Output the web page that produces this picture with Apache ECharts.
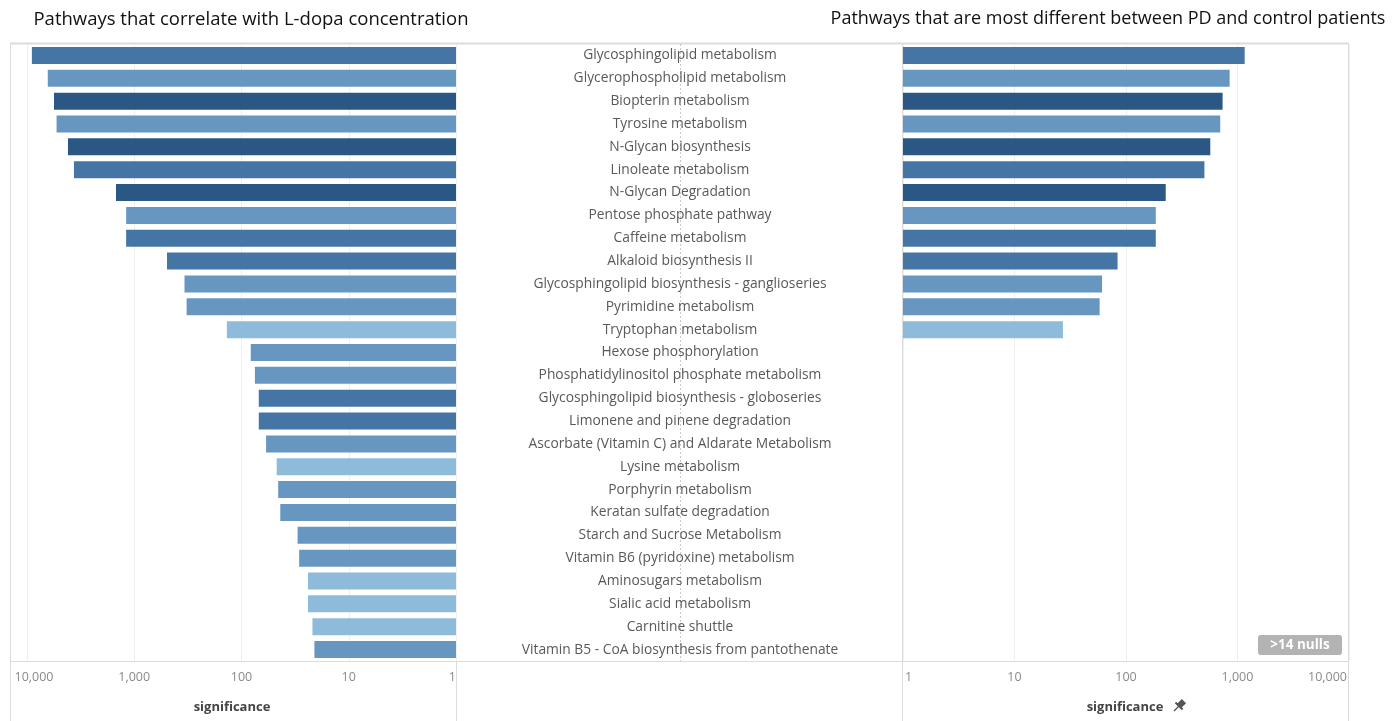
<!DOCTYPE html>
<html>
<head>
<meta charset="utf-8">
<title>Pathways significance</title>
<script src="https://cdn.jsdelivr.net/npm/echarts@6/dist/echarts.min.js"></script>
<style>
    html, body { margin: 0; padding: 0; background: #fff; }
    #main { width: 1396px; height: 721px; }
</style>
</head>
<body>
<div id="main"></div>
<script>
// pathways, top to bottom
var pathways = [
    "Glycosphingolipid metabolism",
    "Glycerophospholipid metabolism",
    "Biopterin metabolism",
    "Tyrosine metabolism",
    "N-Glycan biosynthesis",
    "Linoleate metabolism",
    "N-Glycan Degradation",
    "Pentose phosphate pathway",
    "Caffeine metabolism",
    "Alkaloid biosynthesis II",
    "Glycosphingolipid biosynthesis - ganglioseries",
    "Pyrimidine metabolism",
    "Tryptophan metabolism",
    "Hexose phosphorylation",
    "Phosphatidylinositol phosphate metabolism",
    "Glycosphingolipid biosynthesis - globoseries",
    "Limonene and pinene degradation",
    "Ascorbate (Vitamin C) and Aldarate Metabolism",
    "Lysine metabolism",
    "Porphyrin metabolism",
    "Keratan sulfate degradation",
    "Starch and Sucrose Metabolism",
    "Vitamin B6 (pyridoxine) metabolism",
    "Aminosugars metabolism",
    "Sialic acid metabolism",
    "Carnitine shuttle",
    "Vitamin B5 - CoA biosynthesis from pantothenate"
];

// significance vs L-dopa concentration (left panel)
var ldopaSig = [9000, 6400, 5600, 5300, 4150, 3650, 1480, 1190, 1190, 495,
    340, 325, 137, 82, 75, 69, 69, 59, 47, 45.5, 43.5, 30, 29, 24, 24, 21.8, 20.9];

// significance PD vs control (right panel), null = no value
var pdSig = [1160, 850, 735, 700, 570, 505, 227, 185, 185, 84,
    61, 58, 27.2, null, null, null, null, null, null, null, null, null, null, null, null, null, null];

// colour level of each pathway (0 = lightest .. 3 = darkest)
var shadeLevel = [2, 1, 3, 1, 3, 2, 3, 1, 2, 2, 1, 1, 0, 1, 1, 2, 2, 1, 0, 1, 1, 1, 1, 0, 0, 0, 1];

var tickLabels = ["1", "10", "100", "1,000", "10,000"];

var nullsNote = ">14 nulls";

var chart_view = (function () {
    var palette = ["#8fbbdb", "#6797c1", "#4575a4", "#2a5783"];
    var frameColor = "#dcdcdc";
    var labelFont = "'Open Sans', sans-serif";
    var titleFont = "'Open Sans', sans-serif";

    // shallow merge helper
    var merge = function (a, b) {
        var o = {}, k;
        for (k in a) { o[k] = a[k]; }
        for (k in b) { o[k] = b[k]; }
        return o;
    };

    var buildData = function (values) {
        var out = [];
        for (var i = 0; i < values.length; i++) {
            out.push({
                value: values[i] === null ? "-" : values[i],
                itemStyle: { color: palette[shadeLevel[i]] }
            });
        }
        return out;
    };

    var tickFormatter = function (v) {
        var p = Math.round(Math.log(v) / Math.LN10);
        return tickLabels[p] || "";
    };

    var vline = function (x, y1, y2, dashed) {
        return {
            type: "line",
            silent: true,
            shape: { x1: x, y1: y1, x2: x, y2: y2 },
            style: dashed ? { stroke: "#c8c8c8", lineWidth: 1, lineDash: [2, 2] }
                          : { stroke: frameColor, lineWidth: 1 }
        };
    };

    var hline = function (y, x1, x2, w) {
        return {
            type: "line",
            silent: true,
            shape: { x1: x1, y1: y, x2: x2, y2: y },
            style: { stroke: frameColor, lineWidth: w || 1 }
        };
    };

    var init = function () {
        var my_chart = echarts.init(document.getElementById("main"));

        var xAxisCommon = {
            type: "log",
            logBase: 10,
            min: 1,
            max: 10000,
            axisLine: { show: false },
            axisTick: { show: false },
            splitLine: { show: true, lineStyle: { color: "#efefef", width: 1 } },
            axisLabel: {
                formatter: tickFormatter,
                color: "#8a8a8a",
                fontFamily: labelFont,
                fontSize: 12.5,
                margin: 10
            }
        };

        var option = {
            animation: false,
            textStyle: { fontFamily: labelFont },
            title: [
                {
                    text: "Pathways that correlate with L-dopa concentration",
                    left: 246, top: 5, textAlign: "center",
                    textStyle: { fontFamily: titleFont, fontSize: 18.5, fontWeight: "normal", color: "#111" }
                },
                {
                    text: "Pathways that are most different between PD and control patients",
                    left: 1103, top: 5, textAlign: "center",
                    textStyle: { fontFamily: titleFont, fontSize: 18, fontWeight: "normal", color: "#111" }
                }
            ],
            grid: [
                { left: 27, right: 940, top: 44, bottom: 60, containLabel: false },
                { left: 903, right: 47, top: 44, bottom: 60, containLabel: false }
            ],
            xAxis: [
                merge(xAxisCommon, {
                    gridIndex: 0,
                    inverse: true,
                    axisLabel: merge(xAxisCommon.axisLabel, {
                        alignMinLabel: "right",
                        formatter: function (v) {
                            var s = tickFormatter(v);
                            return s === "10,000" ? "{edge|" + s + "}" : s;
                        },
                        rich: { edge: { padding: [0, 0, 0, 14], color: "#8a8a8a", fontSize: 12.5, fontFamily: labelFont } }
                    })
                }),
                merge(xAxisCommon, {
                    gridIndex: 1,
                    axisLabel: merge(xAxisCommon.axisLabel, {
                        alignMinLabel: "left",
                        alignMaxLabel: "right",
                        padding: [0, 2, 0, 2]
                    })
                })
            ],
            yAxis: [
                {
                    type: "category",
                    gridIndex: 0,
                    inverse: true,
                    position: "right",
                    data: pathways,
                    axisLine: { show: false },
                    axisTick: { show: false },
                    splitLine: { show: false },
                    axisLabel: {
                        align: "center",
                        margin: 224,
                        color: "#595959",
                        fontFamily: labelFont,
                        fontSize: 13.8
                    }
                },
                {
                    type: "category",
                    gridIndex: 1,
                    inverse: true,
                    data: pathways,
                    axisLine: { show: false },
                    axisTick: { show: false },
                    axisLabel: { show: false }
                }
            ],
            series: [
                {
                    name: "L-dopa",
                    type: "bar",
                    xAxisIndex: 0,
                    yAxisIndex: 0,
                    barWidth: 17,
                    data: buildData(ldopaSig)
                },
                {
                    name: "PD vs control",
                    type: "bar",
                    xAxisIndex: 1,
                    yAxisIndex: 1,
                    barWidth: 17,
                    data: buildData(pdSig)
                }
            ],
            graphic: [
                hline(43.5, 10, 1349, 2),
                hline(661.5, 10, 1349, 1),
                vline(10.5, 43, 721),
                vline(456.5, 43, 721),
                vline(902.5, 43, 721),
                vline(1348.5, 43, 721),
                vline(680.5, 44, 661, true),
                {
                    type: "text",
                    silent: true,
                    style: {
                        text: "significance", x: 232, y: 707, align: "center", verticalAlign: "middle",
                        fill: "#444", font: "bold 13px " + labelFont
                    }
                },
                {
                    type: "text",
                    silent: true,
                    style: {
                        text: "significance", x: 1125, y: 707, align: "center", verticalAlign: "middle",
                        fill: "#444", font: "bold 13px " + labelFont
                    }
                },
                {
                    // pin icon next to the right axis title
                    type: "group",
                    silent: true,
                    x: 1179,
                    y: 706,
                    rotation: -Math.PI / 4,
                    children: [
                        { type: "rect", shape: { x: -3, y: -7, width: 6, height: 7 }, style: { fill: "#555" } },
                        { type: "rect", shape: { x: -5, y: -1, width: 10, height: 2 }, style: { fill: "#555" } },
                        { type: "line", shape: { x1: 0, y1: 0, x2: 0, y2: 7 }, style: { stroke: "#555", lineWidth: 1.3 } }
                    ]
                },
                {
                    type: "group",
                    silent: true,
                    children: [
                        {
                            type: "rect",
                            shape: { x: 1258, y: 635, width: 84, height: 20, r: 3 },
                            style: { fill: "#b3b3b3" }
                        },
                        {
                            type: "text",
                            style: {
                                text: nullsNote, x: 1300, y: 645, align: "center", verticalAlign: "middle",
                                fill: "#fff", font: "bold 13.5px " + labelFont
                            }
                        }
                    ]
                }
            ]
        };

        my_chart.setOption(option);

        window.addEventListener("resize", function () {
            my_chart.resize();
        });
    };

    return { init: init };
})();

chart_view.init();
</script>
</body>
</html>
